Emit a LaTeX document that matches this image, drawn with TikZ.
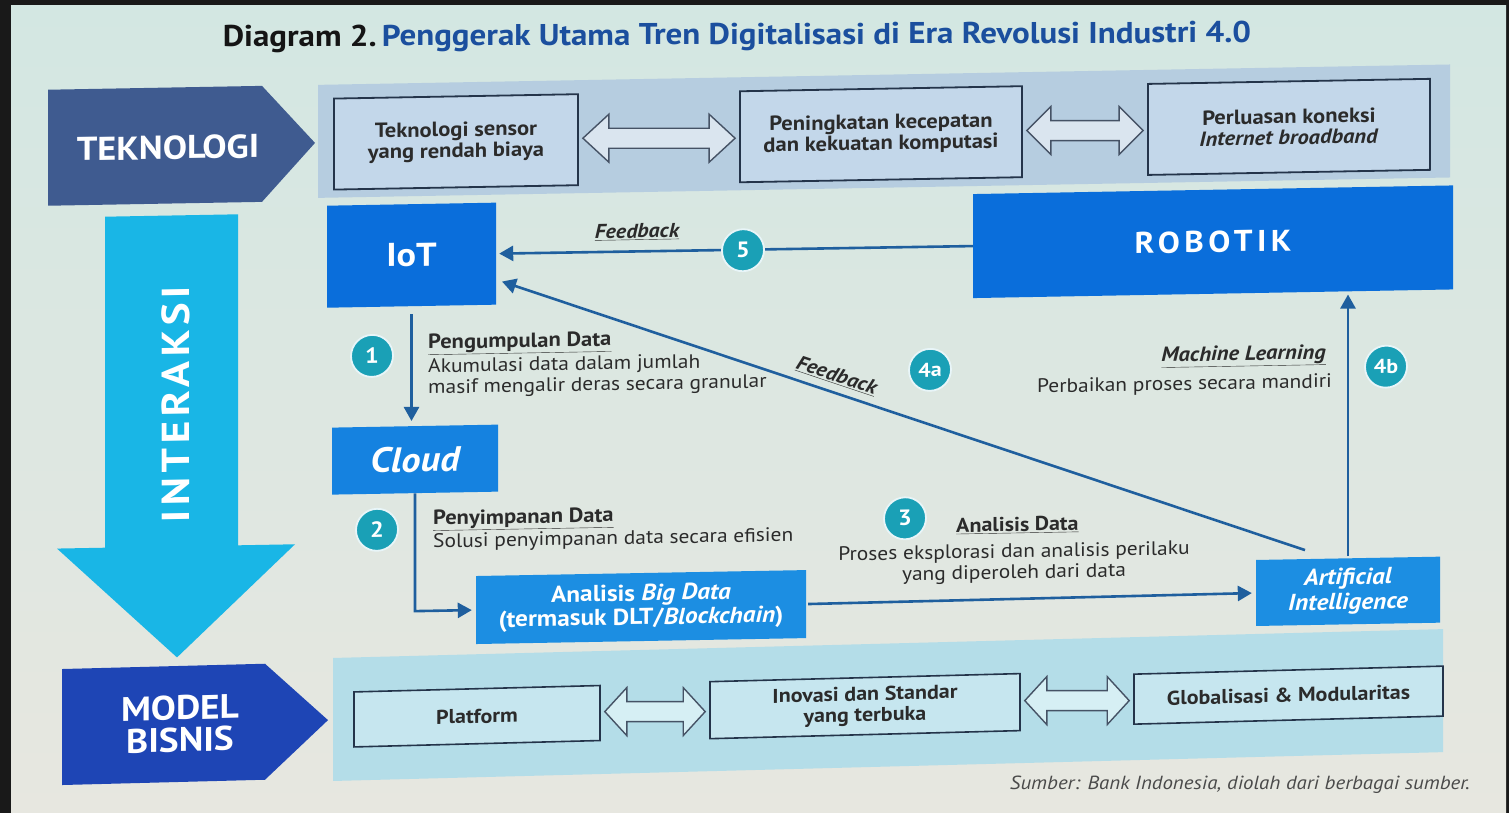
\documentclass[tikz,border=0pt]{standalone}
\usepackage{fontspec}
\setmainfont{PT Sans}[FakeStretch=1.1]
\usetikzlibrary{arrows.meta,calc}

\definecolor{bgtop}{HTML}{D3E7E2}
\definecolor{bgbot}{HTML}{E7E7E0}
\definecolor{bandtop}{HTML}{B6CDE0}
\definecolor{bandbot}{HTML}{B4DDE8}
\definecolor{topfill}{HTML}{C3D7EA}
\definecolor{botfill}{HTML}{C6E6EF}
\definecolor{boxedge}{HTML}{24344A}
\definecolor{dblfilltop}{HTML}{DAE5EF}
\definecolor{dblfillbot}{HTML}{D6EFF4}
\definecolor{tekcol}{HTML}{3F5B90}
\definecolor{modelcol}{HTML}{1E45B5}
\definecolor{intercol}{HTML}{19B6E6}
\definecolor{iotblue}{HTML}{0A6EDB}
\definecolor{cloudblue}{HTML}{1582E0}
\definecolor{datablue}{HTML}{1C8EE2}
\definecolor{connblue}{HTML}{1F5F9E}
\definecolor{numteal}{HTML}{1AA0B6}
\definecolor{titleblue}{HTML}{1B4F9E}
\definecolor{titleblack}{HTML}{151515}
\definecolor{txtdark}{HTML}{2B2B2B}
\definecolor{srcgray}{HTML}{4A4A4A}

\newcommand\fs[2]{\fontsize{#1}{#2}\selectfont}

% hollow two-headed block arrow between two boxes
% #1 fill colour, #2 head length, #3 left node, #4 right node
\newcommand\twoway[4]{%
  \draw[dblarr, fill=#1] let \p1=($(#3.east)+(4,0)$), \p2=($(#4.west)+(-4,0)$),
      \p3=($(#3.east)!0.5!(#4.west)$) in
    (\x1,\y3) -- (\x1+#2,\y3+24pt) -- (\x1+#2,\y3+10pt) -- (\x2-#2,\y3+10pt)
    -- (\x2-#2,\y3+24pt) -- (\x2,\y3) -- (\x2-#2,\y3-24pt) -- (\x2-#2,\y3-10pt)
    -- (\x1+#2,\y3-10pt) -- (\x1+#2,\y3-24pt) -- cycle;}

\begin{document}
\begin{tikzpicture}[x=1pt,y=-1pt,
  conn/.style={draw=connblue, line width=2.6pt},
  fwd/.style={-{Triangle[length=14pt,width=15pt]}},
  bwd/.style={{Triangle[length=14pt,width=15pt]}-},
  num/.style={circle, fill=numteal, draw=white!90!numteal, line width=1.8pt,
    minimum size=42pt, inner sep=0pt, text=white, font=\fs{22}{22}\bfseries},
  topbox/.style={draw=boxedge, fill=topfill, line width=1.8pt, align=center,
    text=txtdark, inner sep=0pt, font=\fs{20.5}{21}\bfseries},
  botbox/.style={draw=boxedge, fill=botfill, line width=1.6pt, align=center,
    text=txtdark, inner sep=0pt, font=\fs{20}{21}\bfseries},
  bluebox/.style={fill=#1, text=white, inner sep=0pt, align=center},
  lbl/.style={text=txtdark, inner sep=0pt, align=left, font=\fs{19.5}{21}\selectfont},
  lblhead/.style={text=txtdark, inner sep=0pt, font=\fs{20.5}{21}\bfseries},
  fbk/.style={text=txtdark, inner sep=0pt, font=\fs{20}{20}\bfseries\itshape},
  dblarr/.style={draw=boxedge!85, line width=1.4pt, line join=miter},
  slanted/.style={shift={(755,0)}, yslant=#1, shift={(-755,0)}, transform shape},
]
\useasboundingbox (0,0) rectangle (1509,813);
% screen and its dark surround
\fill[black!90] (0,0) rectangle (1509,813);
\shade[top color=bgtop, bottom color=bgbot] (11,6) rectangle (1506,813);

% heading
\begin{scope}[slanted=0.004]
  \node[inner sep=0pt, font=\fs{30}{30}\bfseries] (title) at (737,37)
    {\textcolor{titleblack}{Diagram 2.}\,\textcolor{titleblue}{Penggerak Utama Tren Digitalisasi di Era Revolusi Industri 4.0}};
\end{scope}

% technology row and the flow in the middle
\begin{scope}[slanted=0.018]
  \fill[tekcol] (48,77) -- (262,77) -- (315,135) -- (262,193) -- (48,193) -- cycle;
  \node[text=white, inner sep=0pt, font=\fs{33}{33}\bfseries] (tek) at (168,137) {TEKNOLOGI};
  \fill[bandtop] (318,77) rectangle (1450,190);
  \node[topbox, minimum width=244, minimum height=91] (sensor) at (456,136.5)
    {Teknologi sensor\\yang rendah biaya};
  \node[topbox, minimum width=282, minimum height=91] (komp) at (881,136.5)
    {Peningkatan kecepatan\\dan kekuatan komputasi};
  \node[topbox, minimum width=282, minimum height=91] (inet) at (1289,136.5)
    {Perluasan koneksi\\\textit{Internet broadband}};

  % interaction arrow
  \fill[intercol] (105,205) -- (238,205) -- (238,536) -- (295,536) -- (177,647)
    -- (57,536) -- (105,536) -- cycle;
  \node[rotate=90, text=white, inner sep=0pt,
    font=\fs{39}{39}\bfseries\addfontfeature{LetterSpace=12}] (inter) at (176,394) {INTERAKSI};

  % main blocks
  \node[bluebox=iotblue, minimum width=169, minimum height=102,
    font=\fs{33}{33}\bfseries] (iot) at (411.5,249) {IoT};
  \node[bluebox=iotblue, minimum width=480, minimum height=104,
    font=\fs{30}{30}\bfseries\addfontfeature{LetterSpace=15}] (robot) at (1213,250) {ROBOTIK};
  \node[bluebox=cloudblue, minimum width=166, minimum height=67,
    font=\fs{35}{35}\bfseries\itshape] (cloud) at (415,453.5) {Cloud};
  \node[bluebox=datablue, minimum width=330, minimum height=68,
    font=\fs{23}{24}\bfseries] (bigdata) at (641,605)
    {Analisis \textit{Big Data}\\(termasuk DLT/\textit{Blockchain})};
  \node[bluebox=datablue, minimum width=184, minimum height=66,
    font=\fs{23}{25}\bfseries\itshape] (ai) at (1348,602) {Artificial\\Intelligence};

  % free ends of the diagonal feedback
  \coordinate (aiout) at (1305,560);
  \coordinate (iotin) at (502,277);

  % connectors
  \draw[conn, fwd, shorten >=3pt] (robot.west) -- (iot.east);
  \draw[conn, bwd] (iotin) -- node[pos=0.41, sloped, above=7pt, fbk] (fb4a)
      {\underline{Feedback}} (aiout);
  \draw[conn, fwd, shorten <=8pt, shorten >=5pt] (iot.south) -- (iot.south |- cloud.north);
  \draw[conn, fwd, shorten >=4pt] (cloud.south) |- (bigdata.west);
  \draw[conn, fwd, shorten <=2pt, shorten >=4pt] (bigdata.east) -- (ai.west);
  \draw[conn, fwd, shorten <=2pt, shorten >=3pt] (ai.north) -- (ai.north |- robot.south);

  % step markers
  \node[num] (n5) at (743,250) {5};
  \node[num] (n1) at (372,349) {1};
  \node[num] (n2) at (377,523) {2};
  \node[num] (n3) at (905,521) {3};
  \node[num, font=\fs{20}{20}\bfseries] (n4a) at (930,373) {4a};
  \node[num, font=\fs{20}{20}\bfseries] (n4b) at (1386,378) {4b};

  % step texts
  \node[fbk] (fb5) at (637,230) {\underline{Feedback}};
  \node[lblhead, anchor=west] (h1) at (428,339) {\underline{Pengumpulan Data}};
  \node[lbl, anchor=west] (b1) at (428,372.5)
    {Akumulasi data dalam jumlah\\masif mengalir deras secara granular};
  \node[lblhead, anchor=west] (h2) at (433,515) {\underline{Penyimpanan Data}};
  \node[lbl, anchor=west] (b2) at (433,537) {Solusi penyimpanan data secara efisien};
  \node[lblhead, font=\fs{20}{21}\bfseries, anchor=west] (h3) at (956,530)
    {\underline{Analisis Data}};
  \node[lbl, align=center] (b3) at (1014,568)
    {Proses eksplorasi dan analisis perilaku\\yang diperoleh dari data};
  \node[lblhead, anchor=east, font=\fs{20.5}{21}\bfseries\itshape] (h4b) at (1326,365)
    {\underline{Machine Learning}};
  \node[lbl, anchor=east] (b4b) at (1332,393) {Perbaikan proses secara mandiri};
\end{scope}

% business model row
\begin{scope}[slanted=0.026]
  \fill[bandbot] (333,647) rectangle (1443,770);
  \fill[modelcol] (62,651) -- (265,651) -- (328,709) -- (265,767) -- (62,767) -- cycle;
  \node[text=white, inner sep=0pt, align=center, font=\fs{34}{32}\bfseries] (model)
    at (180,709) {MODEL\\BISNIS};
  \node[botbox, minimum width=246, minimum height=55] (plat) at (477,709) {Platform};
  \node[botbox, minimum width=310, minimum height=57] (inov) at (865,709)
    {Inovasi dan Standar\\yang terbuka};
  \node[botbox, minimum width=309, minimum height=50] (glob) at (1288.5,709)
    {Globalisasi \& Modularitas};
\end{scope}

% two-way links inside the rows
\twoway{dblfilltop}{26pt}{sensor}{komp}
\twoway{dblfilltop}{24pt}{komp}{inet}
\twoway{dblfillbot}{22pt}{plat}{inov}
\twoway{dblfillbot}{22pt}{inov}{glob}

\node[anchor=east, inner sep=0pt, text=srcgray, font=\fs{19}{19}\itshape] (src)
  at (1470,785) {Sumber: Bank Indonesia, diolah dari berbagai sumber.};
\end{tikzpicture}
\end{document}
